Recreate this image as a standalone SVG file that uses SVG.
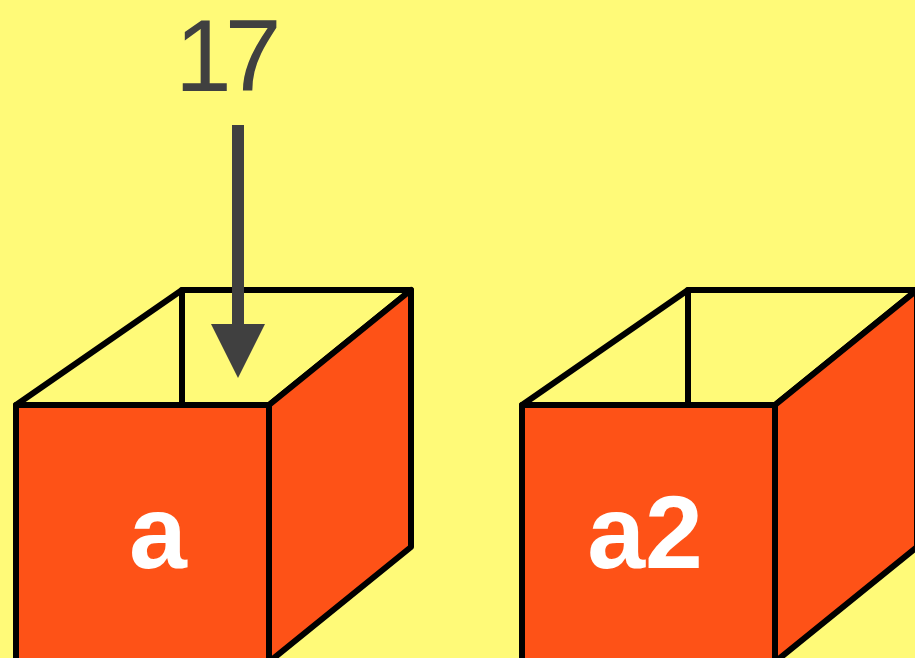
<svg xmlns="http://www.w3.org/2000/svg" width="915" height="658" viewBox="0 0 915 658">
  <defs>
    <style>
      .edge { fill: none; stroke: #000; stroke-width: 6; stroke-linejoin: round; stroke-linecap: round; }
      .face { fill: #FE5217; stroke: #000; stroke-width: 6; stroke-linejoin: round; }
      .label { font-family: "Liberation Sans", Arial, sans-serif; font-weight: bold; font-size: 104px; fill: #fff; text-anchor: middle; }
      .value { font-family: "Liberation Sans", Arial, sans-serif; font-size: 102px; fill: #404040; letter-spacing: -7px; }
    </style>
    <!-- one open box: top opening, back edge, front and side faces -->
    <g id="box">
      <polygon class="edge" points="16,405 182,290 411,290 269,405"/>
      <line class="edge" x1="182" y1="290" x2="182" y2="405"/>
      <polygon class="face" points="269,405 411,290 411,547 269,662"/>
      <rect class="face" x="16" y="405" width="253" height="300"/>
    </g>
  </defs>

  <rect width="915" height="658" fill="#FFFA78"/>

  <g id="node-a">
    <use href="#box"/>
    <text class="label" x="158" y="568">a</text>
  </g>

  <g id="node-a2">
    <use href="#box" transform="translate(506,0)"/>
    <text class="label" x="645" y="568">a2</text>
  </g>

  <g id="value-17">
    <text class="value" x="175" y="91">17</text>
  </g>

  <g id="connectors">
    <rect x="232" y="125" width="12" height="202" fill="#404040"/>
    <polygon points="211,324 265,324 238,378" fill="#404040"/>
  </g>
</svg>
